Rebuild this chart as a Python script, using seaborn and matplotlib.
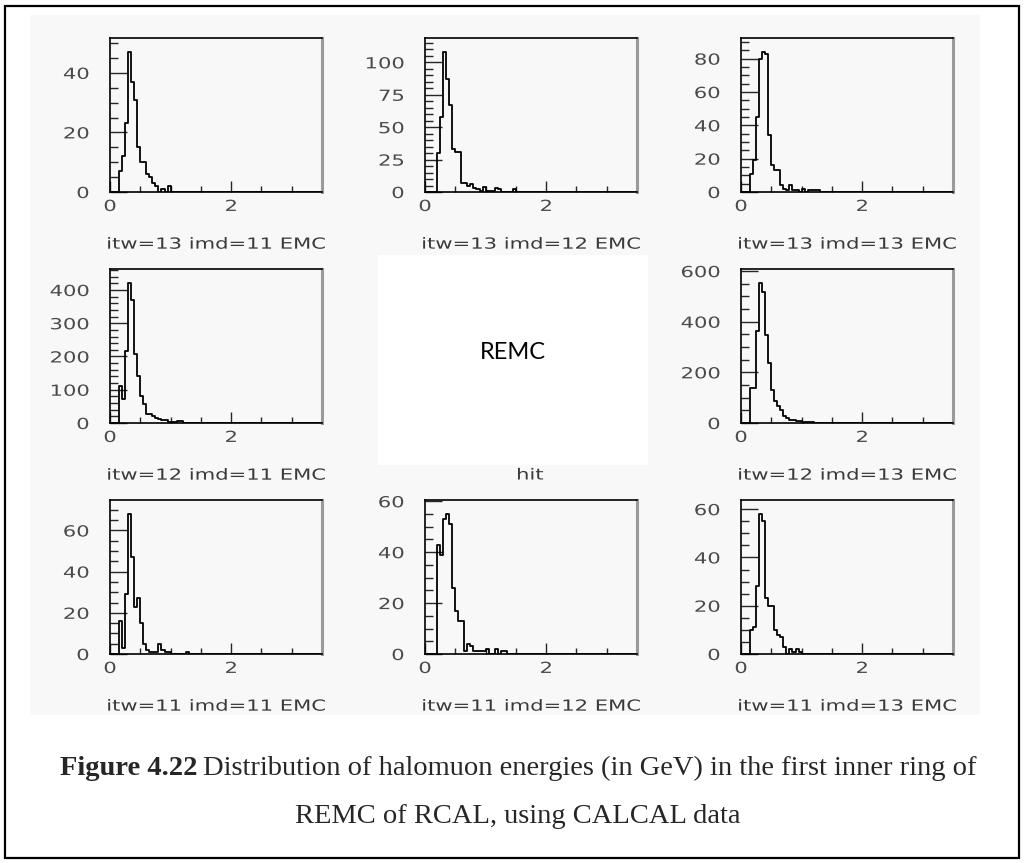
import numpy as np
import pandas as pd
import matplotlib
matplotlib.use("Agg")
import matplotlib.pyplot as plt
from matplotlib.patches import Rectangle
from matplotlib.patheffects import AbstractPathEffect
from matplotlib.transforms import Affine2D
from matplotlib.ticker import MultipleLocator
import seaborn as sns

# ---------------------------------------------------------------------------
# Halomuon energy spectra (GeV), counts per 0.05 GeV bin.
# Each tower/module keeps the first filled bin's lower edge and its counts.
# ---------------------------------------------------------------------------
BIN_WIDTH = 0.05
E_MAX = 3.5

start_13_11 = 0.15
counts_13_11 = [7, 12, 23, 47, 37, 31, 15, 10, 10, 6, 5, 3, 2, 0, 1, 0, 2]

start_13_12 = 0.20
counts_13_12 = [30, 58, 108, 87, 67, 33, 31, 31, 7, 7, 5, 6, 3, 2, 1, 4, 1, 1, 1,
                3, 2, 0, 0, 0, 0, 2]

start_13_13 = 0.15
counts_13_13 = [11, 19, 45, 80, 84, 83, 34, 16, 13, 13, 4, 2, 1, 4, 1, 1, 0, 2,
                0, 1, 1, 1, 1]

start_12_11 = 0.15
counts_12_11 = [110, 73, 218, 421, 370, 208, 142, 81, 56, 28, 28, 22, 15, 12,
                8, 8, 4, 2, 2, 5, 5]

start_12_13 = 0.15
counts_12_13 = [137, 140, 363, 553, 517, 347, 236, 129, 87, 67, 53, 29, 20, 13,
                11, 7, 7, 4, 3, 3, 3]

start_11_11 = 0.15
counts_11_11 = [16, 3, 29, 68, 47, 23, 27, 15, 5, 2, 1, 1, 1, 5, 2, 1, 1, 0, 0,
                0, 0, 0, 1]

start_11_12 = 0.20
counts_11_12 = [43, 39, 53, 55, 51, 26, 17, 13, 13, 1, 4, 3, 1, 1, 1, 1, 2, 0,
                0, 2, 0, 1, 1]

start_11_13 = 0.15
counts_11_13 = [10, 11, 28, 58, 55, 23, 20, 20, 10, 8, 7, 3, 0, 2, 1, 2, 1]

panel_labels = ["itw=13 imd=11 EMC", "itw=13 imd=12 EMC", "itw=13 imd=13 EMC",
                "itw=12 imd=11 EMC", "itw=12 imd=13 EMC",
                "itw=11 imd=11 EMC", "itw=11 imd=12 EMC", "itw=11 imd=13 EMC"]
panel_starts = [start_13_11, start_13_12, start_13_13, start_12_11, start_12_13,
                start_11_11, start_11_12, start_11_13]
panel_counts = [counts_13_11, counts_13_12, counts_13_13, counts_12_11,
                counts_12_13, counts_11_11, counts_11_12, counts_11_13]
# y-axis labelled / unlabelled tick spacing for each panel
y_major = [20, 25, 20, 100, 200, 20, 20, 20]
y_minor = [5, 5, 5, 20, 50, 5, 5, 5]

center_label = "REMC"
center_xlabel = "hit"
caption_bold = "Figure 4.22"
caption_line1 = "Distribution of halomuon energies (in GeV) in the first inner ring of"
caption_line2 = "REMC of RCAL, using CALCAL data"

# long-form table: one row per filled bin
rows = []
for label, start, counts in zip(panel_labels, panel_starts, panel_counts):
    for i, c in enumerate(counts):
        rows.append({"panel": label,
                     "energy": start + BIN_WIDTH * (i + 0.5),
                     "count": c})
hist_df = pd.DataFrame(rows)
edges = [round(e, 4) for e in np.arange(0.0, E_MAX + BIN_WIDTH / 2, BIN_WIDTH)]


class HStretch(AbstractPathEffect):
    """Widen text glyphs horizontally about a chosen anchor of the string."""

    def __init__(self, sx, anchor="center"):
        super().__init__()
        self.sx = sx
        self.anchor = anchor

    def draw_path(self, renderer, gc, tpath, affine, rgbFace=None):
        ext = tpath.get_extents()
        if self.anchor == "right":
            ax0 = ext.x1
        elif self.anchor == "left":
            ax0 = ext.x0
        else:
            ax0 = 0.5 * (ext.x0 + ext.x1)
        stretch = Affine2D().translate(-ax0, 0).scale(self.sx, 1).translate(ax0, 0)
        renderer.draw_path(gc, tpath, stretch + affine, rgbFace)


# ---------------------------------------------------------------------------
sns.set_style("ticks")
plt.rcParams["font.family"] = ["DejaVu Sans"]

W, H = 1024, 863
fig = plt.figure(figsize=(W / 100, H / 100), dpi=100)
fig.patch.set_facecolor("white")


def fig_rect(x, y, w, h):
    """Pixel box (origin top-left) -> figure fraction rectangle."""
    return [x / W, 1 - (y + h) / H, w / W, h / H]


def fig_xy(x, y):
    return x / W, 1 - y / H


# light grey plot sheet, blank white square in its middle, outer frame
fig.add_artist(Rectangle(fig_xy(30, 715), 950 / W, 700 / H, transform=fig.transFigure,
                         facecolor="#f8f8f8", edgecolor="none", zorder=-20))
fig.add_artist(Rectangle(fig_xy(378, 465), 270 / W, 210 / H, transform=fig.transFigure,
                         facecolor="white", edgecolor="none", zorder=-19))
fig.add_artist(Rectangle(fig_xy(5, 858), 1014 / W, 852 / H, transform=fig.transFigure,
                         fill=False, edgecolor="black", linewidth=1.6, zorder=20))

COL_LEFTS = [110, 425, 741]
ROW_TOPS = [38, 269, 500]
PANEL_W, PANEL_H = 212, 154
grid_cells = [(0, 0), (0, 1), (0, 2), (1, 0), (1, 2), (2, 0), (2, 1), (2, 2)]

TICK_COLOR = "#4a4a4a"
LABEL_COLOR = "#3a3a3a"
WIDE = 1.38
axes_list = []

for k, (row, col) in enumerate(grid_cells):
    label = panel_labels[k]
    ax = fig.add_axes(fig_rect(COL_LEFTS[col], ROW_TOPS[row], PANEL_W, PANEL_H))
    axes_list.append(ax)
    ax.set_facecolor("none")
    d = hist_df[hist_df["panel"] == label]
    sns.histplot(data=d, x="energy", weights="count", bins=edges,
                 element="step", fill=False, color="black", linewidth=1.3, ax=ax)

    ax.set_xlim(0, E_MAX)
    ax.set_ylim(0, 1.1 * max(panel_counts[k]))
    ax.set_ylabel("")
    ax.set_xlabel(label, fontsize=11, color=LABEL_COLOR)
    ax.xaxis.set_label_coords(0.5, -0.29)

    ax.set_xticks([0, 2])
    ax.set_xticklabels(["0", "2"])
    ax.xaxis.set_minor_locator(MultipleLocator(0.5))
    ax.yaxis.set_major_locator(MultipleLocator(y_major[k]))
    ax.yaxis.set_minor_locator(MultipleLocator(y_minor[k]))

    ax.tick_params(axis="x", which="major", direction="in", length=8, width=1.0,
                   pad=5, labelsize=11, labelcolor=TICK_COLOR)
    ax.tick_params(axis="x", which="minor", direction="in", length=4, width=1.0)
    ax.tick_params(axis="y", which="major", direction="in", length=12, width=1.0,
                   pad=15, labelsize=11, labelcolor=TICK_COLOR)
    ax.tick_params(axis="y", which="minor", direction="in", length=6, width=1.0)

    for side in ("left", "bottom", "top"):
        ax.spines[side].set_color("black")
        ax.spines[side].set_linewidth(1.2)
    ax.spines["right"].set_color("#9a9a9a")
    ax.spines["right"].set_linewidth(2.2)

# centre cell: detector name and its axis caption
fig.text(*fig_xy(513, 352), center_label, ha="center", va="center",
         fontsize=17, family=["Lato", "DejaVu Sans"], color="black")
hit_txt = fig.text(*fig_xy(530, 475), center_xlabel, ha="center", va="center",
                   fontsize=11, color=LABEL_COLOR)
hit_txt.set_path_effects([HStretch(WIDE, "center")])

# two-line figure caption, first words in bold
serif = ["Liberation Serif", "DejaVu Serif"]
cap_size = 20.5
t_bold = fig.text(0, 0, caption_bold, fontsize=cap_size, family=serif,
                  weight="bold", va="baseline", ha="left")
t_rest = fig.text(0, 0, caption_line1, fontsize=cap_size, family=serif,
                  va="baseline", ha="left")
renderer = fig.canvas.get_renderer()
w_bold = t_bold.get_window_extent(renderer).width
w_rest = t_rest.get_window_extent(renderer).width
gap = 6
cx = 518
x0 = cx - (w_bold + gap + w_rest) / 2
t_bold.set_position(fig_xy(x0, 775))
t_rest.set_position(fig_xy(x0 + w_bold + gap, 775))
fig.text(*fig_xy(cx, 823), caption_line2, fontsize=cap_size, family=serif,
         va="baseline", ha="center")

# the PAW style text is drawn wide: stretch tick labels and panel titles
fig.canvas.draw()
for ax in axes_list:
    for lbl in ax.get_xticklabels():
        lbl.set_path_effects([HStretch(WIDE, "center")])
    for lbl in ax.get_yticklabels():
        lbl.set_path_effects([HStretch(WIDE, "right")])
    ax.xaxis.label.set_path_effects([HStretch(WIDE, "center")])

fig.savefig("out.png", dpi=100, facecolor="white")
